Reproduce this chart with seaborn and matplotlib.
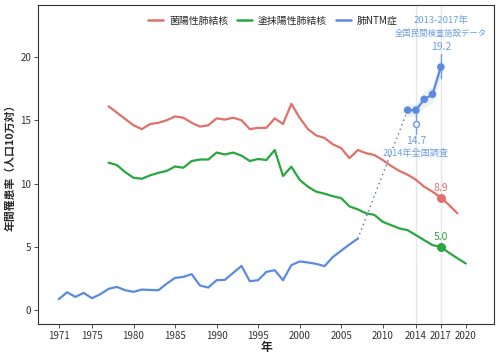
import numpy as np
import pandas as pd
import seaborn as sns
import matplotlib.pyplot as plt

# data
years_red = list(range(1977, 2020))
red = [16.1, 15.6, 15.1, 14.6, 14.3, 14.7, 14.8, 15.0, 15.3, 15.2, 14.8, 14.5, 14.6,
       15.15, 15.05, 15.2, 15.0, 14.3, 14.4, 14.4, 15.15, 14.7, 16.3, 15.2, 14.3,
       13.8, 13.6, 13.1, 12.8, 12.0, 12.65, 12.4, 12.25, 11.86, 11.4, 11.0, 10.7,
       10.3, 9.75, 9.36, 8.9, 8.3, 7.65]

years_green = list(range(1977, 2021))
green = [11.65, 11.46, 10.9, 10.46, 10.38, 10.65, 10.85, 11.0, 11.35, 11.25, 11.78,
         11.9, 11.9, 12.45, 12.3, 12.45, 12.2, 11.78, 11.94, 11.86, 12.65, 10.6,
         11.33, 10.3, 9.75, 9.36, 9.2, 9.0, 8.85, 8.2, 7.96, 7.65, 7.53, 6.98,
         6.72, 6.46, 6.32, 5.93, 5.53, 5.14, 5.0, 4.53, 4.1, 3.69]

years_blue = list(range(1971, 2008))
blue = [0.87, 1.42, 1.05, 1.37, 0.95, 1.26, 1.69, 1.84, 1.58, 1.45, 1.63, 1.6, 1.58,
        2.1, 2.55, 2.63, 2.85, 1.95, 1.79, 2.37, 2.4, 2.95, 3.5, 2.29, 2.37, 3.03,
        3.16, 2.37, 3.56, 3.85, 3.77, 3.66, 3.48, 4.2, 4.7, 5.2, 5.65]

# 2013-2017 private lab data
years_lab = [2013, 2014, 2015, 2016, 2017]
lab = [15.8, 15.8, 16.65, 17.05, 19.2]
lab_lo = [15.3, 15.3, 16.0, 16.4, 18.3]
lab_hi = [16.3, 16.3, 17.3, 17.7, 20.2]

survey_year = 2014
survey_val = 14.7

xticks = [1971, 1975, 1980, 1985, 1990, 1995, 2000, 2005, 2010, 2014, 2017, 2020]
yticks = [0, 5, 10, 15, 20]

names = ['菌陽性肺結核', '塗抹陽性肺結核', '肺NTM症']
colors = ['#e0706a', '#2aa63e', '#5b8be0']
lightblue = '#6f9fe6'

df = pd.concat([
    pd.DataFrame({'year': years_red, 'rate': red, 'kind': names[0]}),
    pd.DataFrame({'year': years_green, 'rate': green, 'kind': names[1]}),
    pd.DataFrame({'year': years_blue, 'rate': blue, 'kind': names[2]}),
])

sns.set_style('white')
plt.rcParams['font.family'] = ['Noto Sans CJK JP', 'DejaVu Sans']

fig = plt.figure(figsize=(5, 3.57), dpi=100)
ax = fig.add_axes([0.076, 0.092, 0.912, 0.894])

# reference years
for yr in [2014, 2017]:
    ax.axvline(yr, color='#e6e6e6', lw=1, zorder=0)

sns.lineplot(data=df, x='year', y='rate', hue='kind', palette=colors,
             linewidth=1.6, ax=ax)

# dotted bridge between series
ax.plot([years_blue[-1], years_lab[0]], [blue[-1], lab[0]], ls=(0, (1, 2.5)),
        color='#5a6f9e', lw=1, zorder=2)

# lab data with band
ax.fill_between(years_lab, lab_lo, lab_hi, color=colors[2], alpha=0.12, lw=0)
ax.plot([2017, 2017], [lab_lo[-1], lab_hi[-1]], color=lightblue, lw=1)
ax.plot(years_lab, lab, color=colors[2], lw=1.6)
sns.scatterplot(x=years_lab, y=lab, color=colors[2], s=30, edgecolor='none', ax=ax,
                zorder=4)

# 2014 survey
ax.plot([survey_year, survey_year], [13.9, lab[1]], color=lightblue, lw=1)
ax.scatter([survey_year], [survey_val], s=18, facecolor='white',
           edgecolor=lightblue, linewidth=1.1, zorder=5)

# highlight 2017
ax.scatter([2017], [red[years_red.index(2017)]], s=30, color=colors[0], zorder=5)
ax.scatter([2017], [green[years_green.index(2017)]], s=30, color=colors[1], zorder=5)

ax.text(2017, 9.65, '8.9', color=colors[0], ha='center', va='center', fontsize=7.5)
ax.text(2017, 5.75, '5.0', color=colors[1], ha='center', va='center', fontsize=7.5)
ax.text(2017, 20.8, '19.2', color=lightblue, ha='center', va='center', fontsize=7.5)
ax.text(2017, 21.85, '全国民間検査施設データ', color=lightblue, ha='center', va='center',
        fontsize=6)
ax.text(2017, 22.9, '2013-2017年', color=lightblue, ha='center', va='center',
        fontsize=6.8)
ax.text(2014, 13.4, '14.7', color=lightblue, ha='center', va='center', fontsize=7.5)
ax.text(2014, 12.4, '2014年全国調査', color=lightblue, ha='center', va='center',
        fontsize=6.6)

ax.set_xlim(1968.5, 2023.4)
ax.set_ylim(-1.1, 24.1)
ax.set_xticks(xticks)
ax.set_yticks(yticks)
ax.tick_params(axis='both', labelsize=7, colors='#333333', length=3, width=0.6,
               direction='out', bottom=True, left=True, pad=2)
ax.set_xlabel('年', fontsize=8.5, fontweight='bold', labelpad=0)
ax.set_ylabel('年間罹患率（人口10万対）', fontsize=7.8, fontweight='bold', labelpad=3)
for s in ax.spines.values():
    s.set_color('#333333')
    s.set_linewidth(0.8)

leg = ax.legend(loc='upper center', bbox_to_anchor=(0.515, 0.995), ncol=3, frameon=False,
                fontsize=7.1, title=None, handlelength=1.5, columnspacing=0.9,
                handletextpad=0.6)
for line in leg.get_lines():
    line.set_linewidth(1.8)

fig.savefig('out.png', dpi=100)
